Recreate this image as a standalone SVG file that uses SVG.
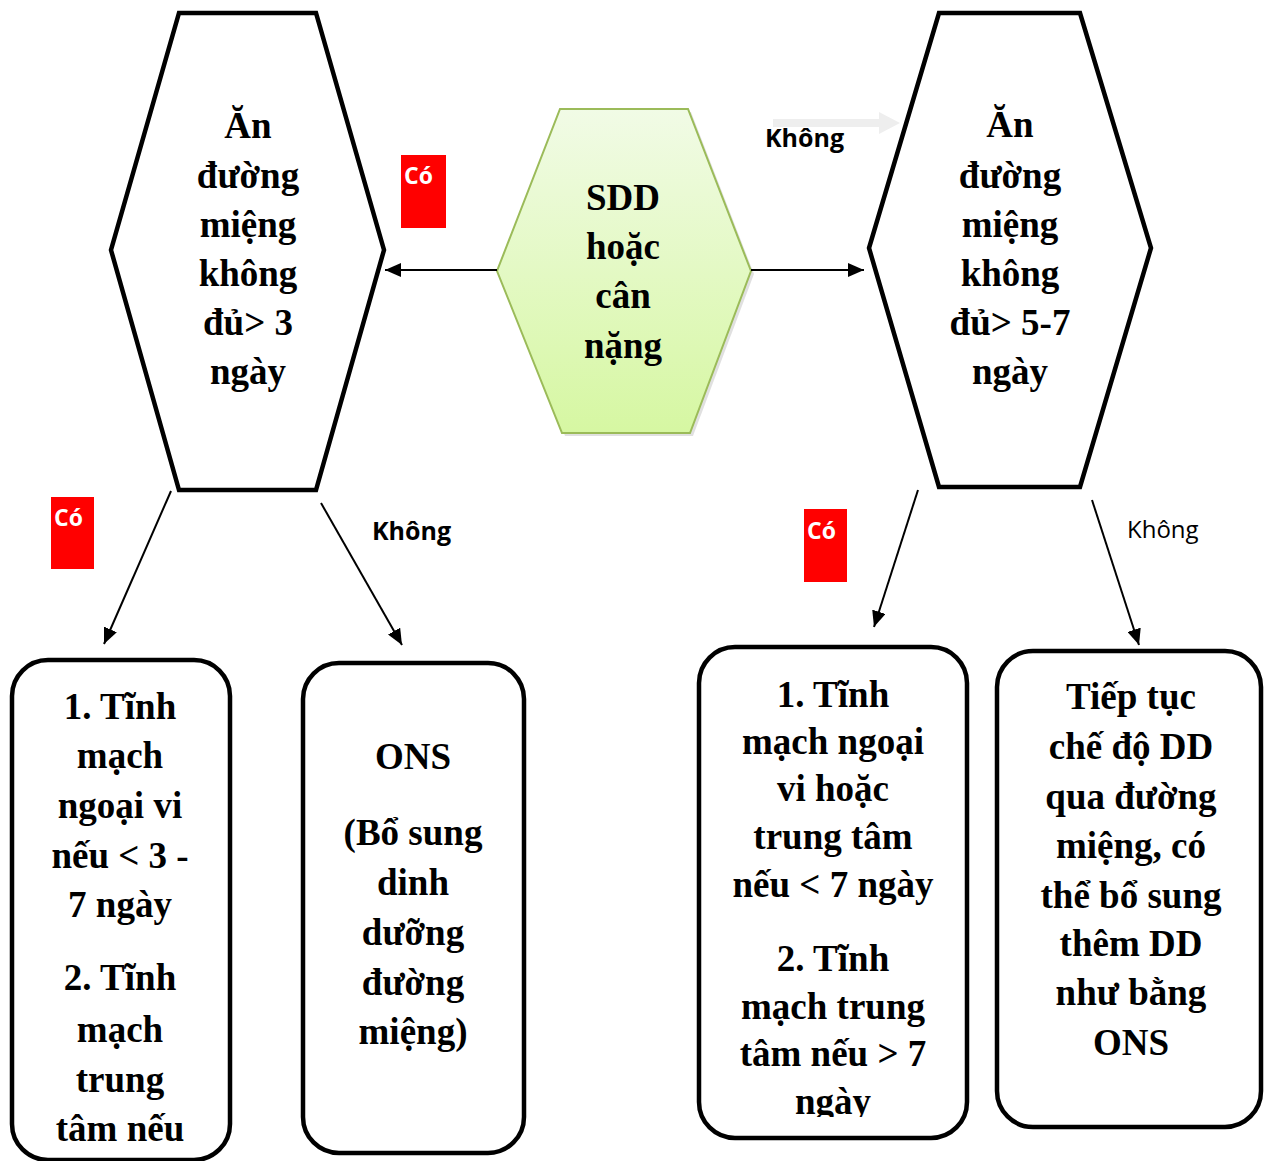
<svg xmlns="http://www.w3.org/2000/svg" width="1264" height="1161" viewBox="0 0 1264 1161">
<style>
.hex{fill:#fff;stroke:#000;stroke-width:4.5;stroke-linejoin:miter}
.box{fill:#fff;stroke:#000;stroke-width:4.5}
.t{font-family:"Liberation Serif","Times New Roman",serif;font-weight:bold;font-size:37px;fill:#000;text-anchor:middle}
.lbl{font-family:"Open Sans","Liberation Sans",sans-serif;font-size:24px;fill:#000}
.b{font-weight:bold;font-size:25px}
.co{font-family:"Open Sans","Liberation Sans",sans-serif;font-weight:bold;font-size:23px;fill:#fff}
.red{fill:#ff0000}
.conn line{stroke:#000;stroke-width:2;marker-end:url(#ah)}
</style>
<defs>
<marker id="ah" viewBox="0 0 16 14" refX="16" refY="7" markerWidth="16" markerHeight="14" markerUnits="userSpaceOnUse" orient="auto">
<path d="M0,0 L16,7 L0,14 z" fill="#000"/>
</marker>
<linearGradient id="g1" x1="0" y1="0" x2="0" y2="1">
<stop offset="0" stop-color="#f1fbe6"/>
<stop offset="1" stop-color="#d6f7a2"/>
</linearGradient>
<clipPath id="cp1"><rect x="690" y="640" width="290" height="477"/></clipPath>
</defs>

<g id="hex-left">
<polygon class="hex" points="179,13 316,13 384,250 316,490 179,490 111,250"/>
<text class="t" x="248" y="138">Ăn</text>
<text class="t" x="248" y="188">đường</text>
<text class="t" x="248" y="237">miệng</text>
<text class="t" x="248" y="286">không</text>
<text class="t" x="248" y="335">đủ&gt; 3</text>
<text class="t" x="248" y="384">ngày</text>
</g>

<g id="hex-center">
<polygon points="563,112 691,112 754,274 693,436 565,436 500,274" fill="#000" opacity="0.12"/>
<polygon points="560,109 688,109 751,271 690,433 562,433 497,271" fill="url(#g1)" stroke="#9bbb59" stroke-width="2"/>
<text class="t" x="623" y="210">SDD</text>
<text class="t" x="623" y="259">hoặc</text>
<text class="t" x="623" y="308">cân</text>
<text class="t" x="623" y="358">nặng</text>
</g>

<g id="hex-right">
<polygon class="hex" points="939,13 1080,13 1151,248 1080,487 939,487 869,248"/>
<text class="t" x="1010" y="137">Ăn</text>
<text class="t" x="1010" y="188">đường</text>
<text class="t" x="1010" y="237">miệng</text>
<text class="t" x="1010" y="286">không</text>
<text class="t" x="1010" y="335">đủ&gt; 5-7</text>
<text class="t" x="1010" y="384">ngày</text>
</g>

<g id="box-left">
<rect class="box" x="12" y="660" width="218" height="500" rx="36"/>
<text class="t" x="120" y="719">1. Tĩnh</text>
<text class="t" x="120" y="768">mạch</text>
<text class="t" x="120" y="818">ngoại vi</text>
<text class="t" x="120" y="868">nếu &lt; 3 -</text>
<text class="t" x="120" y="917">7 ngày</text>
<text class="t" x="120" y="990">2. Tĩnh</text>
<text class="t" x="120" y="1042">mạch</text>
<text class="t" x="120" y="1092">trung</text>
<text class="t" x="120" y="1141">tâm nếu</text>
</g>

<g id="box-ons">
<rect class="box" x="303" y="663" width="221" height="490" rx="36"/>
<text class="t" x="413" y="769">ONS</text>
<text class="t" x="413" y="845">(Bổ sung</text>
<text class="t" x="413" y="895">dinh</text>
<text class="t" x="413" y="945">dưỡng</text>
<text class="t" x="413" y="995">đường</text>
<text class="t" x="413" y="1044">miệng)</text>
</g>

<g id="box-right1">
<rect class="box" x="699" y="647" width="268" height="491" rx="36"/>
<g clip-path="url(#cp1)">
<text class="t" x="833" y="707">1. Tĩnh</text>
<text class="t" x="833" y="754">mạch ngoại</text>
<text class="t" x="833" y="801">vi hoặc</text>
<text class="t" x="833" y="849">trung tâm</text>
<text class="t" x="833" y="897">nếu &lt; 7 ngày</text>
<text class="t" x="833" y="971">2. Tĩnh</text>
<text class="t" x="833" y="1019">mạch trung</text>
<text class="t" x="833" y="1066">tâm nếu &gt; 7</text>
<text class="t" x="833" y="1114">ngày</text>
</g>
</g>

<g id="box-right2">
<rect class="box" x="997" y="651" width="264" height="476" rx="36"/>
<text class="t" x="1131" y="709">Tiếp tục</text>
<text class="t" x="1131" y="759">chế độ DD</text>
<text class="t" x="1131" y="809">qua đường</text>
<text class="t" x="1131" y="858">miệng, có</text>
<text class="t" x="1131" y="908">thể bổ sung</text>
<text class="t" x="1131" y="956">thêm DD</text>
<text class="t" x="1131" y="1005">như bằng</text>
<text class="t" x="1131" y="1055">ONS</text>
</g>

<g id="connectors" class="conn">
<line x1="497" y1="270" x2="385" y2="270"/>
<line x1="751" y1="270" x2="864" y2="270"/>
<line x1="171" y1="491" x2="104" y2="644"/>
<line x1="321" y1="503" x2="402" y2="645"/>
<line x1="918" y1="490" x2="874" y2="627"/>
<line x1="1092" y1="500" x2="1139" y2="645"/>
</g>

<g id="faint-arrow">
<line x1="773" y1="123" x2="882" y2="123" stroke="#eeeeee" stroke-width="8"/>
<polygon points="879,112 900,123 879,134" fill="#eeeeee"/>
</g>

<g id="labels">
<rect class="red" x="401" y="155" width="45" height="73"/>
<text class="co" x="404" y="184">Có</text>
<rect class="red" x="51" y="497" width="43" height="72"/>
<text class="co" x="54" y="526">Có</text>
<rect class="red" x="804" y="509" width="43" height="73"/>
<text class="co" x="807" y="539">Có</text>
<text class="lbl b" x="765" y="147">Không</text>
<text class="lbl b" x="372" y="540">Không</text>
<text class="lbl" x="1127" y="538">Không</text>
</g>
</svg>
